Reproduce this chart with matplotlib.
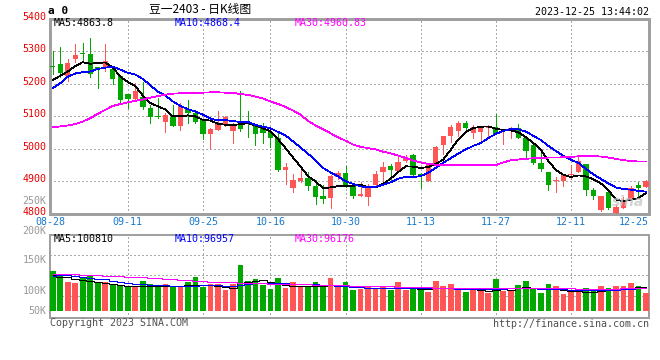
import matplotlib
matplotlib.use('Agg')
import matplotlib.pyplot as plt
import matplotlib.transforms as mtransforms
import numpy as np

# daily K-line, 08-28 .. 12-25 (80 trading days)
opens = [5255, 5260, 5225, 5277, 5296, 5292, 5251, 5248, 5246, 5225,
         5168, 5153, 5161, 5126, 5099, 5082, 5098, 5071, 5124, 5111,
         5090, 5047, 5058, 5073, 5055, 5080, 5082, 5075, 5063, 5052,
         5033, 4936, 4879, 4900, 4909, 4885, 4855, 4847, 4913, 4926,
         4887, 4855, 4850, 4889, 4928, 4948, 4933, 4962, 4982, 4921,
         4901, 4953, 5011, 5040, 5055, 5080, 5050, 5052, 5063, 5067,
         5041, 5057, 5063, 5033, 5013, 4956, 4928, 4900, 4901, 4920,
         4928, 4953, 4872, 4811, 4867, 4801, 4819, 4842, 4889, 4882]
highs = [5302, 5314, 5278, 5324, 5326, 5342, 5253, 5323, 5253, 5228,
         5169, 5202, 5207, 5136, 5156, 5111, 5134, 5141, 5151, 5117,
         5091, 5063, 5116, 5101, 5079, 5177, 5118, 5077, 5080, 5055,
         5050, 4956, 4923, 4943, 4928, 4903, 4887, 4918, 4931, 4948,
         4893, 4898, 4893, 4931, 4958, 4953, 4974, 4982, 4984, 4925,
         4955, 5009, 5040, 5073, 5085, 5087, 5073, 5070, 5073, 5108,
         5055, 5067, 5077, 5037, 5013, 4989, 4928, 4913, 4923, 4951,
         4976, 4953, 4879, 4854, 4867, 4830, 4852, 4884, 4898, 4905]
lows = [5232, 5222, 5210, 5268, 5268, 5222, 5187, 5240, 5199, 5141,
        5126, 5151, 5124, 5080, 5095, 5053, 5071, 5059, 5080, 5080,
        5029, 5004, 5058, 5070, 5019, 5055, 5037, 5012, 5019, 5006,
        4933, 4893, 4867, 4898, 4872, 4830, 4832, 4819, 4908, 4882,
        4849, 4854, 4827, 4887, 4898, 4903, 4933, 4958, 4916, 4880,
        4900, 4953, 4984, 5022, 5040, 5053, 5033, 5026, 5037, 5047,
        5016, 5033, 5033, 4976, 4953, 4933, 4872, 4867, 4884, 4908,
        4928, 4857, 4845, 4809, 4816, 4800, 4819, 4842, 4852, 4882]
closes = [5253, 5233, 5265, 5290, 5293, 5230, 5246, 5270, 5214, 5149,
          5153, 5177, 5128, 5098, 5097, 5104, 5071, 5131, 5111, 5083,
          5047, 5062, 5080, 5097, 5077, 5062, 5078, 5047, 5050, 5033,
          4936, 4945, 4903, 4910, 4884, 4852, 4846, 4915, 4926, 4887,
          4855, 4860, 4880, 4921, 4943, 4935, 4959, 4972, 4918, 4919,
          4951, 5007, 5040, 5067, 5080, 5065, 5067, 5063, 5070, 5047,
          5043, 5063, 5033, 4994, 4956, 4938, 4887, 4902, 4918, 4922,
          4961, 4872, 4855, 4854, 4819, 4822, 4839, 4880, 4879, 4900]

ma5 = [5212, 5225, 5238, 5255, 5267, 5262, 5265, 5266, 5251, 5222,
       5206, 5193, 5164, 5141, 5131, 5121, 5100, 5100, 5103, 5100,
       5089, 5087, 5077, 5074, 5073, 5076, 5079, 5072, 5063, 5054,
       5029, 5002, 4973, 4945, 4916, 4899, 4879, 4881, 4885, 4885,
       4886, 4889, 4882, 4881, 4892, 4908, 4928, 4946, 4945, 4941,
       4944, 4953, 4967, 4997, 5029, 5052, 5064, 5068, 5069, 5062,
       5058, 5057, 5051, 5036, 5018, 4997, 4962, 4935, 4920, 4913,
       4918, 4915, 4906, 4893, 4872, 4844, 4838, 4843, 4848, 4864]
ma10 = [5187, 5202, 5222, 5232, 5236, 5238, 5246, 5250, 5253, 5244,
        5234, 5229, 5215, 5196, 5176, 5164, 5146, 5132, 5122, 5115,
        5105, 5093, 5088, 5088, 5086, 5082, 5083, 5074, 5068, 5063,
        5052, 5041, 5023, 5004, 4985, 4964, 4941, 4927, 4915, 4900,
        4892, 4884, 4882, 4883, 4889, 4897, 4908, 4914, 4913, 4916,
        4926, 4941, 4957, 4971, 4985, 4998, 5009, 5018, 5033, 5046,
        5055, 5061, 5060, 5053, 5040, 5027, 5009, 4993, 4978, 4966,
        4957, 4938, 4921, 4907, 4893, 4881, 4876, 4874, 4870, 4868]
ma30 = [5066, 5069, 5072, 5076, 5084, 5094, 5108, 5120, 5132, 5138,
        5143, 5148, 5152, 5158, 5162, 5167, 5170, 5171, 5172, 5173,
        5173, 5174, 5174, 5173, 5172, 5169, 5166, 5161, 5155, 5146,
        5138, 5129, 5118, 5105, 5086, 5072, 5060, 5048, 5035, 5025,
        5013, 5006, 5002, 4998, 4991, 4986, 4979, 4972, 4964, 4958,
        4953, 4951, 4950, 4950, 4950, 4950, 4950, 4950, 4950, 4950,
        4958, 4965, 4967, 4969, 4971, 4972, 4973, 4973, 4974, 4975,
        4977, 4978, 4978, 4976, 4973, 4969, 4965, 4962, 4961, 4961]

# volume in thousands of lots
volumes = [167, 148, 121, 117, 143, 146, 117, 122, 110, 104,
           104, 104, 125, 111, 108, 113, 104, 104, 122, 142,
           101, 113, 113, 87, 113, 193, 125, 134, 108, 93,
           139, 97, 121, 106, 106, 121, 100, 139, 101, 121,
           87, 91, 101, 94, 104, 87, 121, 87, 101, 94,
           79, 125, 104, 113, 87, 79, 97, 87, 75, 134,
           83, 83, 108, 125, 91, 75, 113, 104, 70, 87,
           87, 96, 84, 104, 96, 104, 104, 117, 104, 75]
vma5 = [150, 143, 141, 136, 129, 125, 121, 117, 112, 108,
        104, 104, 104, 104, 104, 104, 104, 104, 107, 110,
        108, 108, 105, 101, 98, 115, 122, 127, 128, 122,
        114, 108, 104, 104, 105, 105, 105, 108, 105, 103,
        101, 100, 97, 94, 96, 97, 97, 94, 94, 91,
        90, 94, 96, 97, 97, 94, 91, 87, 83, 87,
        90, 87, 94, 101, 97, 94, 98, 94, 87, 83,
        83, 80, 77, 83, 86, 90, 94, 97, 100, 101]
vma10 = [148, 149, 149, 146, 143, 139, 136, 132, 127, 122,
         115, 112, 111, 110, 108, 107, 105, 104, 104, 105,
         107, 107, 107, 105, 105, 110, 112, 115, 117, 117,
         117, 115, 114, 114, 112, 111, 110, 108, 105, 103,
         101, 100, 98, 97, 97, 97, 96, 96, 94, 94,
         94, 94, 94, 94, 93, 93, 91, 91, 91, 93,
         93, 94, 94, 94, 94, 93, 91, 90, 90, 89,
         87, 86, 86, 86, 87, 89, 90, 93, 96, 97]
vma30 = [157, 156, 155, 153, 152, 150, 149, 148, 146, 145,
         143, 142, 141, 139, 138, 136, 134, 131, 128, 125,
         124, 122, 121, 120, 120, 118, 117, 115, 115, 114,
         114, 112, 112, 111, 111, 110, 108, 108, 107, 107,
         105, 105, 104, 104, 103, 103, 101, 101, 100, 100,
         100, 98, 98, 98, 97, 97, 97, 97, 97, 97,
         96, 96, 96, 96, 96, 96, 96, 94, 94, 94,
         93, 93, 93, 91, 91, 93, 94, 96, 96, 96]

date_labels = ['08-28', '09-11', '09-25', '10-16', '10-30', '11-13', '11-27', '12-11', '12-25']
date_idx = [0, 10, 20, 29, 39, 49, 59, 69, 79]
price_ticks = [4800, 4900, 5000, 5100, 5200, 5300, 5400]

RED = '#ff5555'
GREEN = '#00a800'
GRID = '#aaaaaa'
FRAME = '#a0a0a0'
DOT = (0, (1, 2))
LW = 0.55

plt.rcParams['font.family'] = ['DejaVu Sans Mono']
plt.rcParams['lines.antialiased'] = False
plt.rcParams['patch.antialiased'] = False

W, H = 660, 360


def fx(x):
    return x / W


def fy(y):
    return 1 - y / H


o = np.array(opens)
c = np.array(closes)
x = np.arange(len(c))
colors = np.where(c > o, RED, GREEN)
xlim = (-0.36, 79.4)

fig = plt.figure(figsize=(6.6, 3.6), dpi=100)
ax = fig.add_axes([fx(50), fy(213.7), fx(599), 194.7 / H])
axv = fig.add_axes([fx(50), fy(318.3), fx(599), 83.6 / H])

# price panel
ax.set_xlim(*xlim)
ax.set_ylim(4800, 5400)
ax.set_yticks(price_ticks)
ax.set_yticklabels([])
ax.set_xticks(date_idx[1:-1])
ax.set_xticklabels([])
ax.grid(True, ls=DOT, color=GRID, lw=0.75)
ax.tick_params(length=0)
for s in ax.spines.values():
    s.set_color(FRAME)
    s.set_linewidth(1.0)

# red price scale, drawn slightly above each grid line
lab_tr = mtransforms.offset_copy(ax.get_yaxis_transform(), fig=fig, x=-3.5, y=2, units='dots')
for t in price_ticks:
    ax.text(0, t, str(t), transform=lab_tr, ha='right', va='center', color='#e60000',
            fontsize=7.2, clip_on=False)

ax.vlines(x, lows, highs, colors=colors, lw=LW, zorder=3)
ax.bar(x, np.maximum(np.abs(c - o), 3), bottom=np.minimum(o, c), width=0.72,
       color=colors, linewidth=0, zorder=3)
ax.plot(x, ma5, color='black', lw=LW, zorder=4)
ax.plot(x, ma10, color='#0000ff', lw=LW, zorder=4)
ax.plot(x, ma30, color='#ff00ff', lw=LW, zorder=4)
ax.text(0.965, 0.06, 'sina', transform=ax.transAxes, color='#c8c8c8',
        fontsize=10, style='italic', fontweight='bold', family='DejaVu Sans',
        ha='center', va='center', alpha=0.8, zorder=5)

# volume panel
axv.set_xlim(*xlim)
axv.set_ylim(-32, 321)
axv.set_xticks(date_idx[1:-1])
axv.set_xticklabels([])
axv.set_yticks([])
axv.grid(True, axis='x', ls=DOT, color=GRID, lw=0.75)
for f in (0.27, 0.514, 0.754):
    axv.plot([0, 1], [f, f], transform=axv.transAxes, ls=DOT, color=GRID, lw=0.75)
axv.tick_params(length=0)
for s in axv.spines.values():
    s.set_color(FRAME)
    s.set_linewidth(1.2)
axv.bar(x, volumes, width=0.76, color=colors, linewidth=0, zorder=3)
axv.plot(x, vma5, color='black', lw=LW, drawstyle='steps-mid', zorder=4)
axv.plot(x, vma10, color='#0000ff', lw=LW, drawstyle='steps-mid', zorder=4)
axv.plot(x, vma30, color='#ff00ff', lw=LW, drawstyle='steps-mid', zorder=4)

# header
fig.text(fx(200), fy(10), '豆一2403 - 日K线图', ha='center', va='center', fontsize=8.5,
         family=['Noto Sans CJK SC', 'DejaVu Sans'])
fig.text(fx(48), fy(11), 'a 0', ha='left', va='center', fontsize=8, fontweight='bold')
fig.text(fx(649), fy(12), '2023-12-25 13:44:02', ha='right', va='center', fontsize=7.2)

# MA legends
for xp, txt, col in [(54, 'MA5:4863.8', 'black'), (175, 'MA10:4868.4', '#0000ff'),
                     (295, 'MA30:4960.83', '#ff00ff')]:
    fig.text(fx(xp), fy(23.5), txt, color=col, fontsize=7.2, va='center')
for xp, txt, col in [(54, 'MA5:100810', 'black'), (175, 'MA10:96957', '#0000ff'),
                     (295, 'MA30:96176', '#ff00ff')]:
    fig.text(fx(xp), fy(238.5), txt, color=col, fontsize=7.2, va='center')

# volume scale labels
for yp, txt in [(200.7, '250K'), (231, '200K'), (260, '150K'), (290.5, '100K'), (310.7, '50K')]:
    fig.text(fx(46.5), fy(yp), txt, color='#999999', fontsize=7.2, ha='right', va='center')

# date labels
for i, lab in zip(date_idx, date_labels):
    xpos, ha = i, 'center'
    if i == date_idx[0]:
        xpos = xlim[0]
    elif i == date_idx[-1]:
        xpos, ha = xlim[1], 'right'
    ax.text(xpos, -0.045, lab, transform=ax.get_xaxis_transform(), ha=ha,
            va='center', color='#1878cc', fontsize=7.2)

# footer
fig.text(fx(50), fy(323.5), 'Copyright 2023 SINA.COM', color='#505050', fontsize=7.2, va='center')
fig.text(fx(649), fy(324), 'http://finance.sina.com.cn', color='#505050', fontsize=7.2,
         ha='right', va='center')

fig.savefig('out.png', dpi=100)
